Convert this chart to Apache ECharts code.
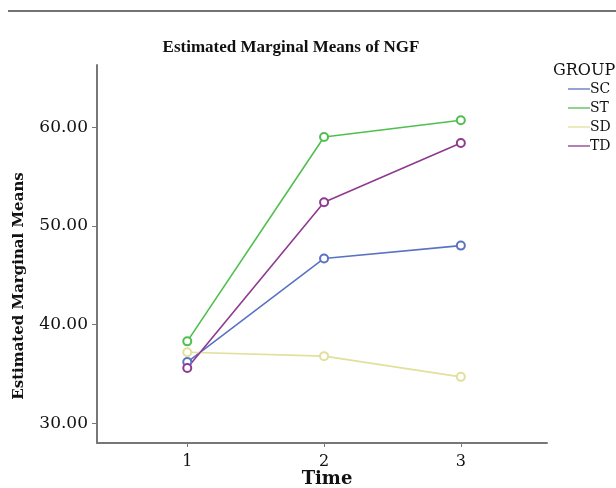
<!DOCTYPE html>
<html>
<head>
<meta charset="utf-8">
<script src="https://cdn.jsdelivr.net/npm/echarts@6/dist/echarts.min.js"></script>
<style>
  html, body { margin: 0; padding: 0; background: #fff; }
  #main { width: 616px; height: 488px; }
</style>
</head>
<body>
<div id="main"></div>
<script>
// time points and group means
var times = [1, 2, 3];
var groups = ["SC", "ST", "SD", "TD"];
var scMeans = [36.2, 46.7, 48.0];
var stMeans = [38.3, 59.0, 60.7];
var sdMeans = [37.2, 36.8, 34.7];
var tdMeans = [35.6, 52.4, 58.4];
var yTicks = [30, 40, 50, 60];

var colors = ["#5a72c4", "#4fbf4f", "#e3df9c", "#8f3a8f"];
var font = "'DejaVu Serif', serif";
var titleFont = "'Liberation Serif', serif";

function pairs(vals) {
  return times.map(function (t, i) { return [t, vals[i]]; });
}

var allMeans = [scMeans, stMeans, sdMeans, tdMeans];

var myChart = echarts.init(document.getElementById("main"));
myChart.setOption({
  animation: false,
  title: {
    text: "Estimated Marginal Means of NGF",
    left: 286,
    top: 34,
    textAlign: "center",
    textStyle: { fontFamily: titleFont, fontSize: 17, fontWeight: "bold", color: "#111" }
  },
  legend: {
    orient: "vertical",
    left: 568,
    top: 82,
    padding: 0,
    itemGap: 5,
    itemWidth: 22,
    itemHeight: 14,
    icon: "path://M0,0 L22,0 L22,1.3 L0,1.3 Z",
    textStyle: { fontFamily: font, fontSize: 14, color: "#111", padding: [0, 0, 0, -5] },
    data: groups
  },
  graphic: [
    {
      type: "line",
      shape: { x1: 8, y1: 11, x2: 616, y2: 11 },
      style: { stroke: "#444", lineWidth: 1.5 }
    },
    {
      type: "text",
      left: 553,
      top: 63,
      style: { text: "GROUP", font: "16px " + font, fill: "#111" }
    },
    {
      // y axis title, sits lower than the axis middle in the original
      type: "text",
      x: 19,
      y: 286,
      rotation: Math.PI / 2,
      style: {
        text: "Estimated Marginal Means",
        font: "bold 15px " + font,
        fill: "#111",
        align: "center",
        verticalAlign: "middle"
      }
    },
    {
      type: "text",
      x: 327,
      y: 479,
      style: {
        text: "Time",
        font: "bold 18px " + font,
        fill: "#111",
        align: "center",
        verticalAlign: "middle"
      }
    }
  ],
  grid: { left: 97, top: 65, right: 69, bottom: 45, outerBoundsMode: "none" },
  xAxis: {
    type: "value",
    min: 0.34,
    max: 3.63,
    axisLine: { lineStyle: { color: "#777", width: 2 } },
    axisTick: { show: true, customValues: times, length: 4, lineStyle: { color: "#777" } },
    axisLabel: { customValues: times, fontFamily: font, fontSize: 16, color: "#111", margin: 11 },
    splitLine: { show: false }
  },
  yAxis: {
    type: "value",
    min: 28,
    max: 66.3,
    axisLine: { show: true, lineStyle: { color: "#777", width: 2 } },
    axisTick: { show: true, customValues: yTicks, length: 5, lineStyle: { color: "#777" } },
    axisLabel: {
      customValues: yTicks,
      fontFamily: font, fontSize: 17, color: "#111", margin: 9,
      formatter: function (v) { return v.toFixed(2); }
    },
    splitLine: { show: false }
  },
  series: groups.map(function (g, i) {
    return {
      name: g,
      type: "line",
      data: pairs(allMeans[i]),
      color: colors[i],
      symbol: "emptyCircle",
      symbolSize: 8,
      lineStyle: { width: 1.6 },
      itemStyle: { borderWidth: 1.3 }
    };
  })
});
</script>
</body>
</html>
